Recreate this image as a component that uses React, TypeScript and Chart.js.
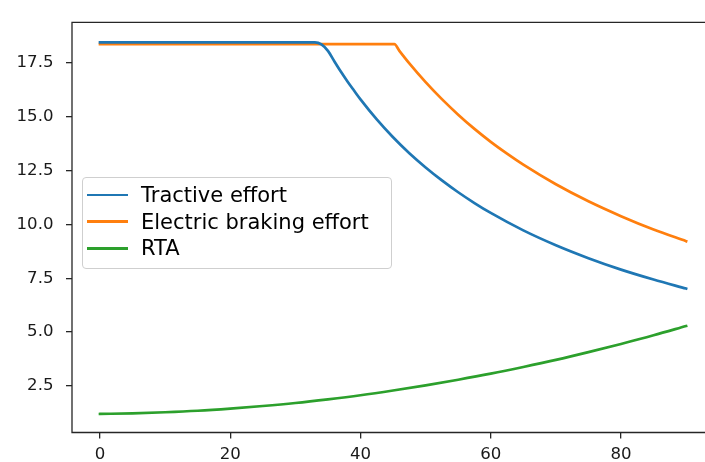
import React, { useEffect, useRef } from "react";
import { Chart, registerables } from "chart.js";

Chart.register(...registerables);

// ---- data ----
const tractiveSpeed = [0, 33, 34, 35, 36, 37, 38, 39, 40, 42.5, 45, 47.5, 50, 52.5, 55, 57.5, 60, 65, 70, 75, 80, 85, 90];
const tractiveEffort = [18.45, 18.45, 18.35, 18.05, 17.56, 17.08, 16.63, 16.21, 15.8, 14.87, 14.04, 13.3, 12.64, 12.04, 11.49, 10.99, 10.53, 9.72, 9.03, 8.43, 7.9, 7.44, 7.02];

const brakingSpeed = [0, 45.2, 46, 47.5, 50, 52.5, 55, 57.5, 60, 62.5, 65, 70, 75, 80, 85, 90];
const brakingEffort = [18.36, 18.36, 18.04, 17.47, 16.6, 15.81, 15.09, 14.43, 13.83, 13.28, 12.77, 11.86, 11.07, 10.38, 9.76, 9.22];

const rtaSpeed = [0, 5, 10, 15, 20, 25, 30, 35, 40, 45, 50, 55, 60, 65, 70, 75, 80, 85, 90];
const rtaValues = [1.2, 1.23, 1.28, 1.35, 1.45, 1.57, 1.71, 1.88, 2.07, 2.29, 2.53, 2.79, 3.07, 3.38, 3.71, 4.07, 4.45, 4.85, 5.28];

const xTicks = [0, 20, 40, 60, 80];
const yTicks = [2.5, 5, 7.5, 10, 12.5, 15, 17.5];

const seriesNames = ["Tractive effort", "Electric braking effort", "RTA"];
const seriesColors = ["#1f77b4", "#ff7f0e", "#2ca02c"];

const W = 705;
const H = 462;
const AREA_LEFT = 72;
const AREA_TOP = 12;
const AREA_BOTTOM = 432.5;

const toPoints = (xs: number[], ys: number[]) => xs.map((x, i) => ({ x, y: ys[i] }));

const framePlugin = {
  id: "frame",
  afterDatasetsDraw(chart: any) {
    const { ctx, chartArea } = chart;
    ctx.save();
    ctx.strokeStyle = "#262626";
    ctx.lineWidth = 1.3;
    ctx.beginPath();
    ctx.moveTo(chartArea.right + 2, chartArea.top);
    ctx.lineTo(chartArea.left, chartArea.top);
    ctx.lineTo(chartArea.left, chartArea.bottom);
    ctx.lineTo(chartArea.right + 2, chartArea.bottom);
    ctx.stroke();
    ctx.restore();
  },
};

export default function App() {
  const canvasRef = useRef<HTMLCanvasElement | null>(null);

  useEffect(() => {
    const canvas = canvasRef.current;
    if (!canvas) return;
    const seriesX = [tractiveSpeed, brakingSpeed, rtaSpeed];
    const seriesY = [tractiveEffort, brakingEffort, rtaValues];
    const chart = new Chart(canvas, {
      type: "line",
      data: {
        datasets: seriesNames.map((name, i) => ({
          label: name,
          data: toPoints(seriesX[i], seriesY[i]),
          borderColor: seriesColors[i],
          backgroundColor: seriesColors[i],
          borderWidth: 2.7,
          borderCapStyle: "square" as const,
          borderJoinStyle: "round" as const,
          pointRadius: 0,
          cubicInterpolationMode: "monotone" as const,
          fill: false,
        })),
      },
      options: {
        animation: false,
        responsive: false,
        maintainAspectRatio: false,
        layout: { padding: { top: AREA_TOP, left: 0, right: 0, bottom: 0 } },
        plugins: {
          legend: { display: false },
          tooltip: { enabled: false },
        },
        scales: {
          x: {
            type: "linear",
            min: -4.3,
            max: 92.9,
            afterBuildTicks: (scale: any) => {
              scale.ticks = xTicks.map((v) => ({ value: v }));
            },
            afterFit: (scale: any) => {
              scale.height = H - AREA_BOTTOM;
            },
            ticks: {
              autoSkip: false,
              maxRotation: 0,
              padding: 6.5,
              color: "#1a1a1a",
              font: { family: "DejaVu Sans", size: 16.6 },
              callback: (v: any) => String(v),
            },
            grid: {
              drawOnChartArea: false,
              drawTicks: true,
              tickLength: 6,
              tickColor: "#262626",
              lineWidth: 1.3,
            },
            border: { display: false },
          },
          y: {
            type: "linear",
            min: 0.34,
            max: 19.37,
            afterBuildTicks: (scale: any) => {
              scale.ticks = yTicks.map((v) => ({ value: v }));
            },
            afterFit: (scale: any) => {
              scale.width = AREA_LEFT;
            },
            ticks: {
              autoSkip: false,
              padding: 12.5,
              color: "#1a1a1a",
              font: { family: "DejaVu Sans", size: 16.6 },
              callback: (v: any) => Number(v).toFixed(1),
            },
            grid: {
              drawOnChartArea: false,
              drawTicks: true,
              tickLength: 6,
              tickColor: "#262626",
              lineWidth: 1.3,
            },
            border: { display: false },
          },
        },
      },
      plugins: [framePlugin],
    });
    return () => chart.destroy();
  }, []);

  const legendRows = [195, 221.7, 248.3];
  const legLeft = 81.7;
  const legTop = 176.7;

  return (
    <div style={{ position: "absolute", left: 0, top: 0, width: W, height: H, background: "#fff", overflow: "hidden" }}>
      <canvas ref={canvasRef} width={W} height={H} style={{ display: "block", width: W, height: H }} />
      <div
        style={{
          position: "absolute",
          left: legLeft,
          top: legTop,
          width: 310,
          height: 92.6,
          boxSizing: "border-box",
          border: "1.3px solid #cfcfcf",
          borderRadius: 4,
          background: "rgba(255,255,255,0.8)",
        }}
      />
      {seriesNames.map((name, i) => (
        <React.Fragment key={name}>
          <div
            style={{
              position: "absolute",
              left: 86.7,
              top: legendRows[i] - 1.35,
              width: 41.6,
              height: 2.7,
              background: seriesColors[i],
            }}
          />
          <div
            style={{
              position: "absolute",
              left: 141,
              top: legendRows[i] - 12,
              height: 24,
              lineHeight: "24px",
              fontFamily: "'DejaVu Sans'",
              fontSize: 21,
              color: "#000",
              whiteSpace: "nowrap",
            }}
          >
            {name}
          </div>
        </React.Fragment>
      ))}
    </div>
  );
}
